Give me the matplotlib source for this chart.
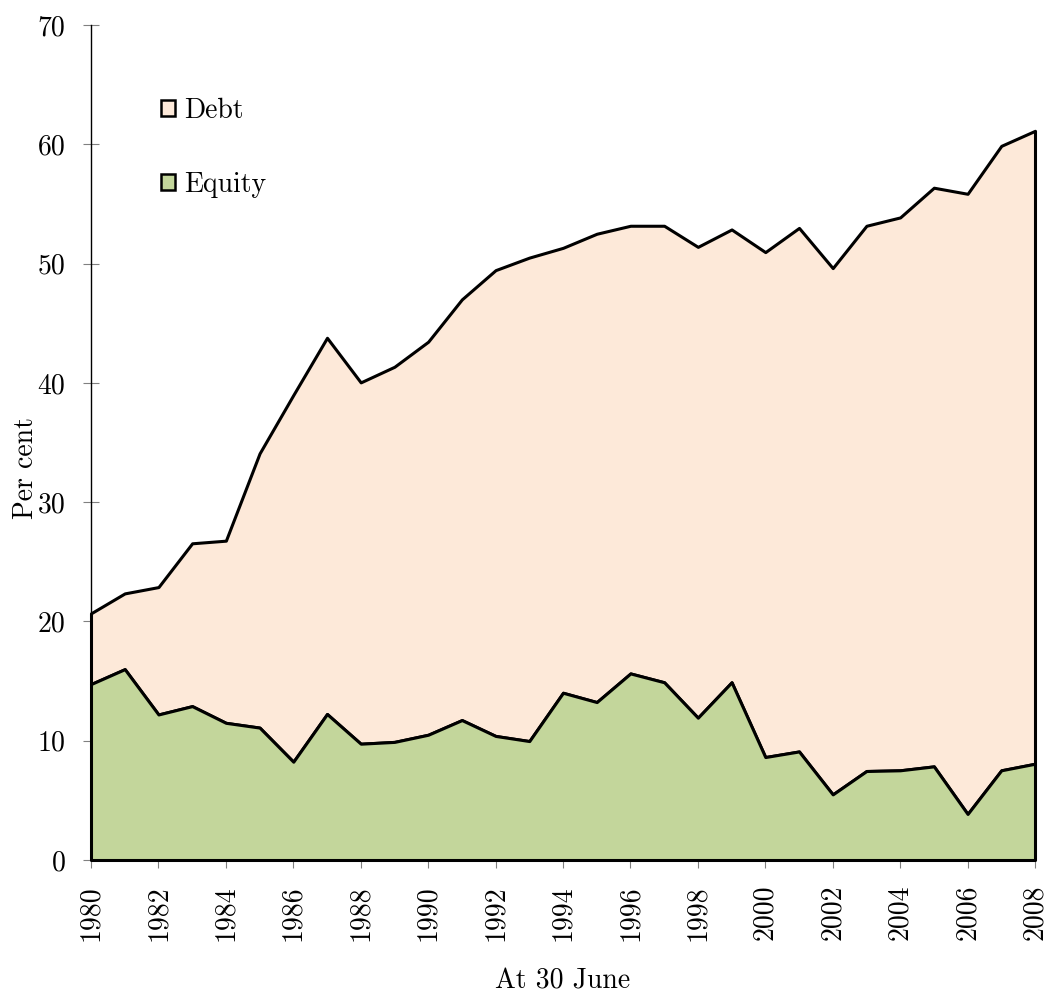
import matplotlib
matplotlib.use("Agg")
import matplotlib.pyplot as plt
from matplotlib.patches import Patch
import numpy as np

years = list(range(1980, 2009))
equity = [14.75, 16.0, 12.2, 12.9, 11.5, 11.1, 8.24, 12.24, 9.75, 9.9, 10.5, 11.73, 10.4, 9.97, 14.02,
          13.24, 15.64, 14.9, 11.93, 14.9, 8.63, 9.1, 5.5, 7.46, 7.52, 7.85, 3.86, 7.52, 8.07]
total = [20.68, 22.35, 22.88, 26.55, 26.77, 34.09, 38.98, 43.78, 40.04, 41.35, 43.45, 47.0, 49.45, 50.5, 51.32,
         52.5, 53.17, 53.17, 51.4, 52.86, 50.96, 52.99, 49.62, 53.17, 53.87, 56.36, 55.85, 59.87, 61.13]
debt = [round(t - e, 2) for t, e in zip(total, equity)]
series_labels = ["Debt", "Equity"]
colors = {"Debt": "#FDE9D9", "Equity": "#C3D69B"}
xticks = list(range(1980, 2009, 2))
yticks = list(range(0, 71, 10))

plt.rcParams['font.family'] = ['cmr10', 'DejaVu Serif']
plt.rcParams['axes.formatter.use_mathtext'] = True
plt.rcParams['mathtext.fontset'] = 'cm'

FS = 20

fig = plt.figure(figsize=(10.5, 9.93), dpi=100)
ax = fig.add_axes([91/1050, 1-860/993, (1035-91)/1050, (860-25)/993])

x = np.array(years)
eq = np.array(equity)
tot = eq + np.array(debt)
ax.fill_between(x, eq, tot, facecolor=colors["Debt"], edgecolor="black", linewidth=2.2, clip_on=False, zorder=2)
ax.fill_between(x, 0, eq, facecolor=colors["Equity"], edgecolor="black", linewidth=2.2, clip_on=False, zorder=3)

ax.set_xlim(1980, 2008)
ax.set_ylim(0, 70)
ax.set_xticks(xticks)
ax.set_xticklabels([str(v) for v in xticks], rotation=90)
ax.set_yticks(yticks)
ax.set_yticklabels([str(v) for v in yticks])

for s in ["top", "right", "bottom"]:
    ax.spines[s].set_visible(False)
ax.spines["left"].set_color("black")
ax.spines["left"].set_linewidth(1.0)

ax.tick_params(axis="y", direction="inout", length=12, width=0.8, color="#808080", labelsize=FS, pad=12.5)
ax.tick_params(axis="x", direction="out", length=6, width=0.8, color="#808080", labelsize=FS, pad=12)

ax.set_ylabel("Per cent", fontsize=FS)
ax.set_xlabel("At 30 June", fontsize=FS)
ax.yaxis.set_label_coords(-0.0556, 0.4695)
ax.xaxis.set_label_coords(0.5, -0.129)

handles = [Patch(facecolor=colors[l], edgecolor="black", linewidth=1.8) for l in series_labels]
ax.legend(handles, series_labels, loc="upper left", bbox_to_anchor=(0.0742, 0.913), frameon=False,
          fontsize=FS, handlelength=0.5, handleheight=0.5, handletextpad=0.32, labelspacing=1.7,
          borderpad=0, borderaxespad=0)

fig.savefig("out.png", dpi=100)
